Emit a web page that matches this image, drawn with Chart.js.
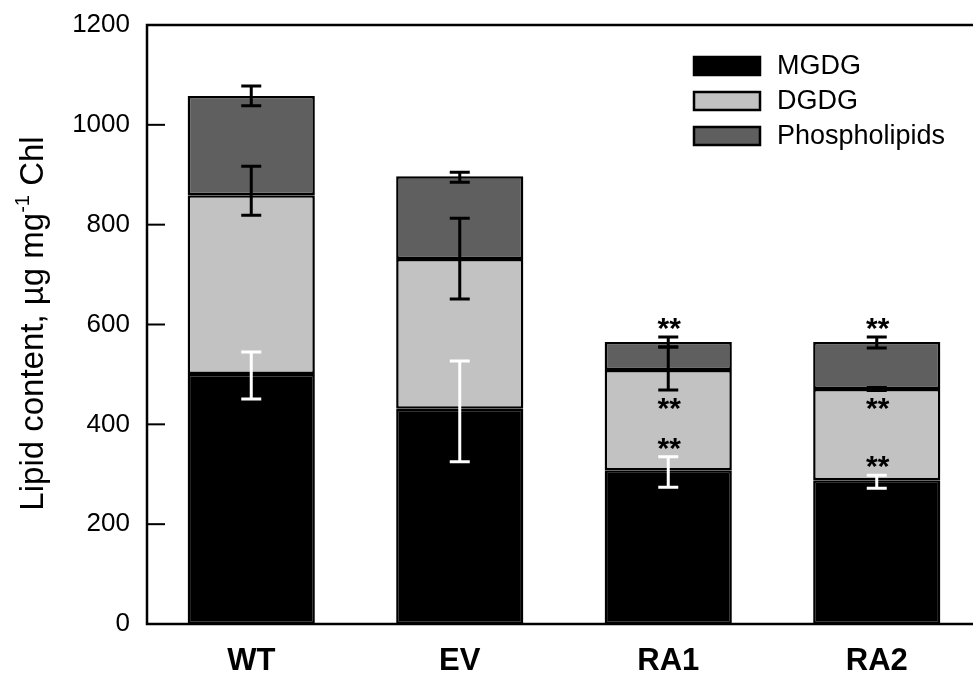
<!DOCTYPE html>
<html>
<head>
<meta charset="utf-8">
<script src="https://cdn.jsdelivr.net/npm/chart.js@4.4.1/dist/chart.umd.min.js"></script>
<style>
  html, body { margin: 0; padding: 0; background: #fff; overflow: hidden; }
  #wrap { position: relative; width: 985px; height: 677px; }
</style>
</head>
<body>
<div id="wrap"><canvas id="lipid-chart"></canvas></div>
<script>
/* data */
const categories = ['WT', 'EV', 'RA1', 'RA2'];
const mgdg = [501, 431, 308, 288];
const dgdg = [358, 300, 201, 183];
const phospholipids = [199, 166, 56, 94];

// error bars as [minus, plus] around each segment top
const mgdgErr = [[50, 44], [106, 96], [34, 27], [16, 10]];
const dgdgErr = [[40, 58], [80, 82], [40, 46], [3, 3]];
const phospholipidErr = [[20, 20], [12, 8], [10, 10], [12, 10]];

// significance marks vs. WT
const mgdgSig = ['', '', '**', '**'];
const dgdgSig = ['', '', '**', '**'];
const phospholipidSig = ['', '', '**', '**'];

const yTicks = [0, 200, 400, 600, 800, 1000, 1200];

/* constants */
const FONT = 'Arial, "Liberation Sans", Helvetica, sans-serif';
const AXIS_LEFT = 147;
const AXIS_BOTTOM_SPACE = 53;
const TOP_SPACE = 25;

/* plugins */
const frame = {
  id: 'frame',
  afterDatasetsDraw(chart) {
    const { ctx, chartArea, scales } = chart;
    ctx.save();
    ctx.strokeStyle = '#000';
    ctx.lineWidth = 2.5;
    ctx.beginPath();
    ctx.moveTo(chartArea.right + 10, chartArea.top);
    ctx.lineTo(chartArea.left, chartArea.top);
    ctx.lineTo(chartArea.left, chartArea.bottom);
    ctx.lineTo(chartArea.right + 10, chartArea.bottom);
    ctx.stroke();

    // inward tick marks on the y axis
    ctx.lineWidth = 2;
    yTicks.forEach((v) => {
      const y = scales.y.getPixelForValue(v);
      ctx.beginPath();
      ctx.moveTo(chartArea.left, y);
      ctx.lineTo(chartArea.left + 18, y);
      ctx.stroke();
    });
    ctx.restore();
  },
};

const errorBars = {
  id: 'errorBars',
  afterDatasetsDraw(chart) {
    const { ctx, scales } = chart;
    const y = scales.y;
    const groups = [
      { data: mgdg, err: mgdgErr, sig: mgdgSig, color: '#fff', base: () => 0, starSide: 'up' },
      { data: dgdg, err: dgdgErr, sig: dgdgSig, color: '#000', base: (i) => mgdg[i], starSide: 'down' },
      { data: phospholipids, err: phospholipidErr, sig: phospholipidSig, color: '#000', base: (i) => mgdg[i] + dgdg[i], starSide: 'up' },
    ];

    ctx.save();
    ctx.lineWidth = 3;
    ctx.font = 'bold 30px ' + FONT;
    ctx.textAlign = 'center';
    ctx.textBaseline = 'alphabetic';

    groups.forEach((group, d) => {
      const meta = chart.getDatasetMeta(d);
      group.data.forEach((value, i) => {
        const x = meta.data[i].x;
        const top = group.base(i) + value;
        const yLow = y.getPixelForValue(top - group.err[i][0]);
        const yHigh = y.getPixelForValue(top + group.err[i][1]);

        ctx.strokeStyle = group.color;
        ctx.beginPath();
        ctx.moveTo(x, yLow);
        ctx.lineTo(x, yHigh);
        ctx.moveTo(x - 10, yLow);
        ctx.lineTo(x + 10, yLow);
        ctx.moveTo(x - 10, yHigh);
        ctx.lineTo(x + 10, yHigh);
        ctx.stroke();

        if (group.sig[i]) {
          const m = ctx.measureText(group.sig[i]);
          const cy = group.starSide === 'up' ? yHigh - 13 : yLow + 14;
          ctx.fillStyle = '#000';
          ctx.fillText(group.sig[i], x + 1, cy + (m.actualBoundingBoxAscent - m.actualBoundingBoxDescent) / 2);
        }
      });
    });
    ctx.restore();
  },
};

const boxLegend = {
  id: 'boxLegend',
  afterDraw(chart) {
    const { ctx } = chart;
    ctx.save();
    ctx.font = '27px ' + FONT;
    ctx.textBaseline = 'middle';
    ctx.textAlign = 'left';
    chart.data.datasets.forEach((ds, i) => {
      const cy = 66 + i * 35;
      ctx.fillStyle = ds.backgroundColor;
      ctx.fillRect(694, cy - 9, 66, 18);
      ctx.strokeStyle = '#000';
      ctx.lineWidth = 2.5;
      ctx.strokeRect(694, cy - 9, 66, 18);
      ctx.fillStyle = '#000';
      ctx.fillText(ds.label, 777, cy + 1);
    });
    ctx.restore();
  },
};

const yTitle = {
  id: 'yTitle',
  afterDraw(chart) {
    const { ctx, chartArea } = chart;
    const main = '33px ' + FONT;
    const sup = '20px ' + FONT;
    const parts = [
      { text: 'Lipid content, \u00b5g mg', font: main, rise: 0 },
      { text: '-1', font: sup, rise: 14 },
      { text: ' Chl', font: main, rise: 0 },
    ];
    ctx.save();
    let total = 0;
    parts.forEach((p) => {
      ctx.font = p.font;
      p.width = ctx.measureText(p.text).width;
      total += p.width;
    });
    ctx.translate(43, (chartArea.top + chartArea.bottom) / 2 - 1);
    ctx.rotate(-Math.PI / 2);
    ctx.fillStyle = '#000';
    ctx.textBaseline = 'alphabetic';
    ctx.textAlign = 'left';
    let x = -total / 2;
    parts.forEach((p) => {
      ctx.font = p.font;
      ctx.fillText(p.text, x, 0 - p.rise);
      x += p.width;
    });
    ctx.restore();
  },
};

/* chart */
const createStackedChart = (selector) => {
  const element = document.querySelector(selector);
  const segment = (label, data, color) => ({
    label: label,
    data: data,
    backgroundColor: color,
    borderColor: '#000',
    borderWidth: 2.5,
    borderSkipped: false,
    barPercentage: 0.61,
    categoryPercentage: 1,
  });

  return new Chart(element, {
    type: 'bar',
    data: {
      labels: categories,
      datasets: [
        segment('MGDG', mgdg, '#000000'),
        segment('DGDG', dgdg, '#c2c2c2'),
        segment('Phospholipids', phospholipids, '#5f5f5f'),
      ],
    },
    options: {
      responsive: true,
      maintainAspectRatio: false,
      animation: false,
      devicePixelRatio: 1,
      layout: { padding: { top: TOP_SPACE, right: 4, left: 0, bottom: 0 } },
      plugins: {
        legend: { display: false },
        tooltip: { enabled: false },
      },
      scales: {
        x: {
          stacked: true,
          grid: { display: false, drawTicks: false },
          border: { display: false },
          ticks: {
            color: '#000',
            padding: 19,
            font: { family: FONT, size: 31, weight: 'bold' },
          },
          afterFit: (scale) => { scale.height = AXIS_BOTTOM_SPACE; },
        },
        y: {
          stacked: true,
          min: 0,
          max: 1200,
          grid: { display: false, drawTicks: false },
          border: { display: false },
          afterBuildTicks: (scale) => { scale.ticks = yTicks.map((v) => ({ value: v })); },
          ticks: {
            color: '#000',
            padding: 17,
            font: { family: FONT, size: 26 },
            callback: (value) => String(value),
          },
          afterFit: (scale) => {
            scale.width = AXIS_LEFT;
            scale.paddingTop = 0;
            scale.paddingBottom = 0;
          },
        },
      },
    },
    plugins: [frame, errorBars, boxLegend, yTitle],
  });
};

createStackedChart('#lipid-chart');
</script>
</body>
</html>
